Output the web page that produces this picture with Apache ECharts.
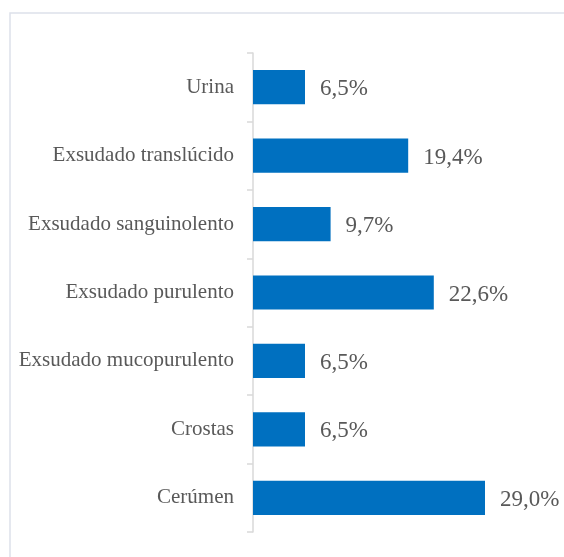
<!DOCTYPE html>
<html>
<head>
<meta charset="utf-8">
<script src="https://cdn.jsdelivr.net/npm/echarts@6/dist/echarts.min.js"></script>
<style>
  html, body { margin: 0; padding: 0; background: #ffffff; }
  #chart { width: 564px; height: 557px; }
</style>
</head>
<body>
<div id="chart"></div>
<script>
// Categories listed bottom to top, as the category axis draws them
const categories = [
  'Cerúmen',
  'Crostas',
  'Exsudado mucopurulento',
  'Exsudado purulento',
  'Exsudado sanguinolento',
  'Exsudado translúcido',
  'Urina'
];
const percentages = [29.0, 6.5, 6.5, 22.6, 9.7, 19.4, 6.5];

const fontFamily = '"Liberation Serif", "Times New Roman", serif';
const chart = echarts.init(document.getElementById('chart'), null, { renderer: 'canvas' });

chart.setOption({
  backgroundColor: '#ffffff',
  animation: false,
  graphic: [{
    type: 'rect',
    shape: { x: 10, y: 13, width: 620, height: 620 },
    style: { fill: 'none', stroke: '#dde1ea', lineWidth: 1.5 },
    silent: true
  }],
  grid: { left: 253, right: 31, top: 53, bottom: 25, containLabel: false },
  xAxis: {
    type: 'value',
    min: 0,
    max: 35,
    show: false
  },
  yAxis: {
    type: 'category',
    data: categories,
    axisLine: { show: true, lineStyle: { color: '#d9d9d9', width: 1.5 } },
    axisTick: { show: true, length: 6, lineStyle: { color: '#d9d9d9', width: 1.5 } },
    axisLabel: {
      margin: 19,
      color: '#595959',
      fontFamily: fontFamily,
      fontSize: 21,
      padding: [3, 0, 0, 0]
    },
    splitLine: { show: false }
  },
  series: [{
    type: 'bar',
    data: percentages,
    barWidth: '50%',
    itemStyle: { color: '#0070c0' },
    label: {
      show: true,
      position: 'right',
      distance: 15,
      offset: [0, 2],
      color: '#595959',
      fontFamily: fontFamily,
      fontSize: 23,
      formatter: p => p.value.toFixed(1).replace('.', ',') + '%'
    }
  }]
});
</script>
</body>
</html>
